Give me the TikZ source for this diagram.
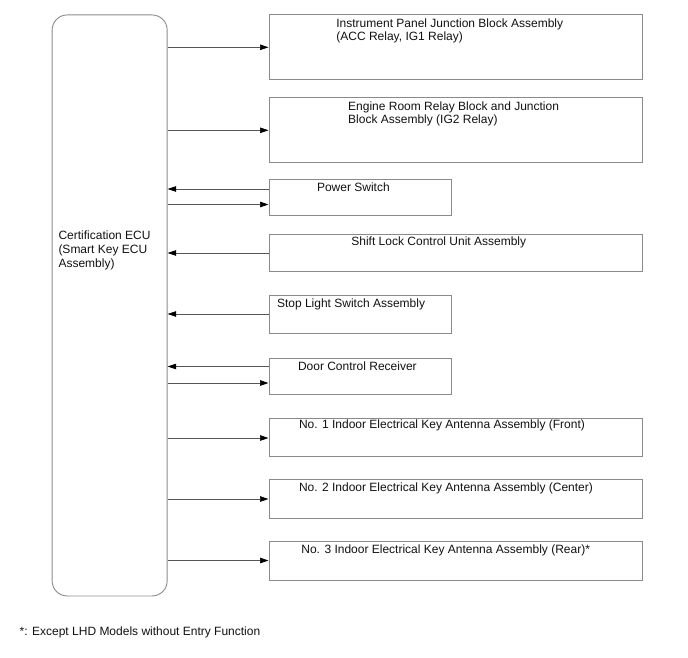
\documentclass[tikz,border=0pt]{standalone}
\usepackage{fontspec}
\setmainfont{Liberation Sans}
\usetikzlibrary{arrows.meta}
\definecolor{boxgray}{HTML}{8A8A8A}
\definecolor{linegray}{HTML}{555555}
\definecolor{txt}{HTML}{111111}
\tikzset{
  box/.style={draw=boxgray, line width=0.9pt, rectangle, inner sep=0pt, anchor=north west},
  ecubox/.style={draw=boxgray, line width=0.9pt, rectangle, rounded corners=15pt, inner sep=0pt, anchor=north west},
  lbl/.style={anchor=base west, inner sep=0pt, text=txt, font=\fontsize{12}{13.5}\selectfont, align=left},
  arr/.style={draw=linegray, line width=0.7pt, -{Triangle[length=8.5pt,width=5.5pt,color=black,fill=black]}},
}
\begin{document}
\begin{tikzpicture}[x=1pt,y=-1pt]
\useasboundingbox (0,0) rectangle (688,658);
% ECU
\node[ecubox, minimum width=115pt, minimum height=581pt] (ecu) at (51.7,14.5) {};
\node[lbl, font=\fontsize{12}{14}\selectfont] (ecut) at (58.3,267.5) {Certification ECU\\(Smart Key ECU\\Assembly)};
% boxes
\node[box, minimum width=373pt, minimum height=65pt] (b1) at (268.5,14.3) {};
\node[box, minimum width=373pt, minimum height=65pt] (b2) at (268.5,97.3) {};
\node[box, minimum width=182pt, minimum height=36pt] (b3) at (268.5,179.3) {};
\node[box, minimum width=373pt, minimum height=37pt] (b4) at (268.5,234) {};
\node[box, minimum width=182.5pt, minimum height=38pt] (b5) at (268.5,295.3) {};
\node[box, minimum width=182.5pt, minimum height=36pt] (b6) at (268.5,357.5) {};
\node[box, minimum width=373pt, minimum height=38pt] (b7) at (268.5,418.3) {};
\node[box, minimum width=373pt, minimum height=38.5pt] (b8) at (268.5,479.3) {};
\node[box, minimum width=373pt, minimum height=39pt] (b9) at (268.5,541) {};
% labels
\node[lbl, font=\fontsize{12}{12.8}\selectfont] (t1) at (336.2,40.2) {Instrument Panel Junction Block Assembly\\(ACC Relay, IG1 Relay)};
\node[lbl] (t2) at (348,123.8) {Engine Room Relay Block and Junction\\Block Assembly (IG2 Relay)};
\node[lbl] (t3) at (316.8,191.7) {Power Switch};
\node[lbl] (t4) at (351.2,245) {Shift Lock Control Unit Assembly};
\node[lbl] (t5) at (276.8,307.7) {Stop Light Switch Assembly};
\node[lbl] (t6) at (297.8,370) {Door Control Receiver};
\node[lbl] (t7) at (298.8,428.3) {No. 1 Indoor Electrical Key Antenna Assembly (Front)};
\node[lbl] (t8) at (298.8,491.7) {No. 2 Indoor Electrical Key Antenna Assembly (Center)};
\node[lbl] (t9) at (301.2,553.3) {No. 3 Indoor Electrical Key Antenna Assembly (Rear)*};
\node[lbl] (fn) at (19.5,635) {*: Except LHD Models without Entry Function};
% connectors
\draw[arr] (ecu.east |- 0,47.3) -- (b1.west |- 0,47.3);
\draw[arr] (ecu.east |- 0,130.3) -- (b2.west |- 0,130.3);
\draw[arr] (b3.west |- 0,189) -- (ecu.east |- 0,189);
\draw[arr] (ecu.east |- 0,204.5) -- (b3.west |- 0,204.5);
\draw[arr] (b4.west |- 0,253) -- (ecu.east |- 0,253);
\draw[arr] (b5.west |- 0,314) -- (ecu.east |- 0,314);
\draw[arr] (b6.west |- 0,366.5) -- (ecu.east |- 0,366.5);
\draw[arr] (ecu.east |- 0,383) -- (b6.west |- 0,383);
\draw[arr] (ecu.east |- 0,438) -- (b7.west |- 0,438);
\draw[arr] (ecu.east |- 0,499) -- (b8.west |- 0,499);
\draw[arr] (ecu.east |- 0,560.5) -- (b9.west |- 0,560.5);
\end{tikzpicture}
\end{document}
